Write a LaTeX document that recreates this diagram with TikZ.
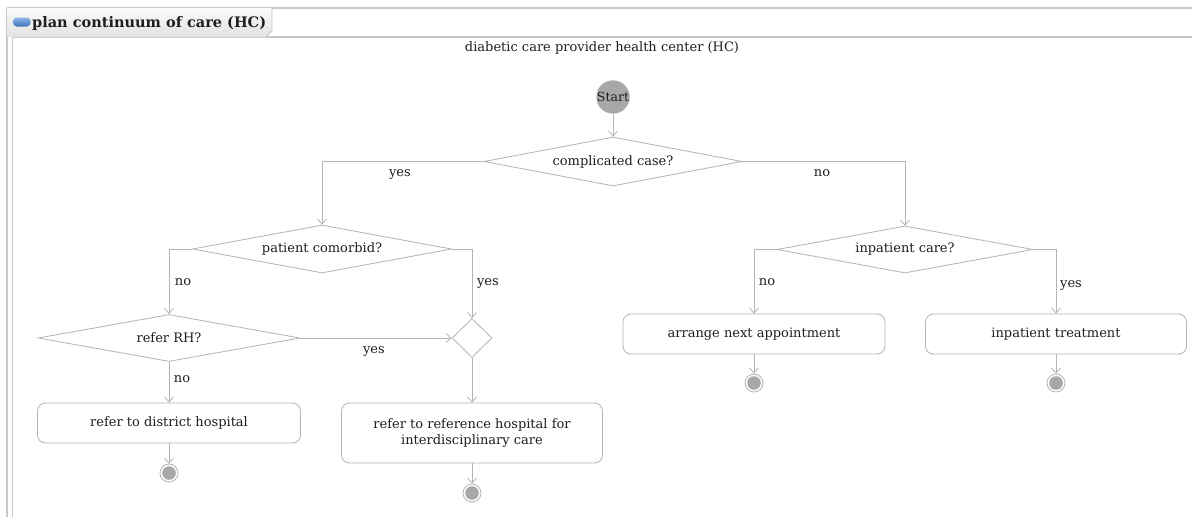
\documentclass[tikz,border=0pt]{standalone}
\usepackage{fontspec}
\setmainfont{DejaVu Serif}
\usetikzlibrary{shapes.geometric,arrows.meta}

\definecolor{edge}{HTML}{B4B4B4}
\definecolor{ink}{HTML}{1E1E1E}
\definecolor{frameline}{HTML}{C8C8C8}
\definecolor{tokenfill}{HTML}{A8A8A8}
\definecolor{tabtop}{HTML}{FAFAFA}
\definecolor{tabbottom}{HTML}{E2E2E2}
\definecolor{pilltop}{HTML}{8DB8E8}
\definecolor{pillbottom}{HTML}{3C72B8}

\tikzset{
  txt/.style={font=\fontsize{13}{16}\selectfont, text=ink},
  flow/.style={draw=edge, line width=0.8pt, -{Straight Barb[length=5pt,width=9pt]}},
  activity/.style={txt, draw=edge, line width=0.8pt, rounded corners=8pt, fill=white,
                   align=center, minimum height=40pt, inner sep=2pt},
  decision/.style={txt, diamond, aspect=6, draw=edge, line width=0.8pt, fill=white, inner sep=0pt},
  guard/.style={txt, inner sep=0pt, anchor=base},
  initial/.style={txt, circle, fill=tokenfill, minimum size=28pt, inner sep=0pt,
                  font=\fontsize{12.5}{14}\selectfont},
  final/.style={circle, draw=edge, line width=0.8pt, fill=white, minimum size=18pt, inner sep=0pt,
                path picture={\fill[tokenfill] (path picture bounding box.center) circle (6.8pt);}},
}

\begin{document}
\begin{tikzpicture}[x=1pt,y=-1pt]
  \useasboundingbox (0,0) rectangle (1192,517);
  \fill[white] (0,0) rectangle (1192,517);

  % frame of the plan
  \draw[frameline, line width=1.6pt] (7,8) -- (1192,8);
  \draw[frameline, line width=1.2pt] (7,8) -- (7,517);
  \draw[frameline, line width=1.2pt] (12,37) -- (1192,37);
  \draw[frameline, line width=1.0pt] (12,37) -- (12,517);
  % title tab
  \shade[top color=tabtop, bottom color=tabbottom] (7,8) -- (272,8) -- (272,31) -- (266,37) -- (7,37) -- cycle;
  \draw[frameline, line width=0.8pt] (272,8) -- (272,31) -- (266,37);
  \shade[top color=pilltop, bottom color=pillbottom, rounded corners=3.8pt] (13,17.5) rectangle (30.5,26.5);
  \node[txt, font=\fontsize{14.5}{17}\selectfont\bfseries, anchor=west, inner sep=0pt] (title) at (32,23) {plan continuum of care (HC)};
  \node[txt, inner sep=0pt] (lane) at (602,48) {diabetic care provider health center (HC)};

  % nodes
  \node[initial] (start) at (613,97) {Start};
  \node[decision, minimum width=258pt, minimum height=49pt] (cc) at (613,161.5) {complicated case?};
  \node[decision, minimum width=259pt, minimum height=48pt] (pc) at (322,249) {patient comorbid?};
  \node[decision, minimum width=256pt, minimum height=47pt] (ic) at (905,249.5) {inpatient care?};
  \node[decision, minimum width=262pt, minimum height=47pt] (rr) at (169,338) {refer RH?};
  \node[decision, aspect=1, minimum width=40pt, minimum height=39pt] (merge) at (472,338) {};

  \node[activity, minimum width=263pt] (dh) at (169,423) {refer to district hospital};
  \node[activity, minimum width=261pt, minimum height=60pt] (rh) at (472,433)
       {refer to reference hospital for\\interdisciplinary care};
  \node[activity, minimum width=262pt] (na) at (754,334) {arrange next appointment};
  \node[activity, minimum width=261pt] (it) at (1056,334) {inpatient treatment};

  \node[final] (f1) at (169,473) {};
  \node[final] (f2) at (472,493) {};
  \node[final] (f3) at (754,383) {};
  \node[final] (f4) at (1056,383) {};

  % connectors
  \draw[flow] (start) -- (cc.north);
  \draw[flow] (cc.west) -| (pc.north);
  \draw[flow] (cc.east) -| (ic.north);
  \draw[flow] (pc.west) -| (rr.north);
  \draw[flow] (pc.east) -| (merge.north);
  \draw[flow] (rr.east) -- (merge.west);
  \draw[flow] (rr.south) -- (dh.north);
  \draw[flow] (merge.south) -- (rh.north);
  \draw[flow] (ic.west) -| (na.north);
  \draw[flow] (ic.east) -| (it.north);
  \draw[flow] (dh.south) -- (f1.north);
  \draw[flow] (rh.south) -- (f2.north);
  \draw[flow] (na.south) -- (f3.north);
  \draw[flow] (it.south) -- (f4.north);

  % guards
  \node[guard] (g1) at (400,176) {yes};
  \node[guard] (g2) at (822,176) {no};
  \node[guard] (g3) at (183,285) {no};
  \node[guard] (g4) at (488,285) {yes};
  \node[guard] (g5) at (374,353) {yes};
  \node[guard] (g6) at (182,382) {no};
  \node[guard] (g7) at (767,285) {no};
  \node[guard] (g8) at (1071,287) {yes};
\end{tikzpicture}
\end{document}
